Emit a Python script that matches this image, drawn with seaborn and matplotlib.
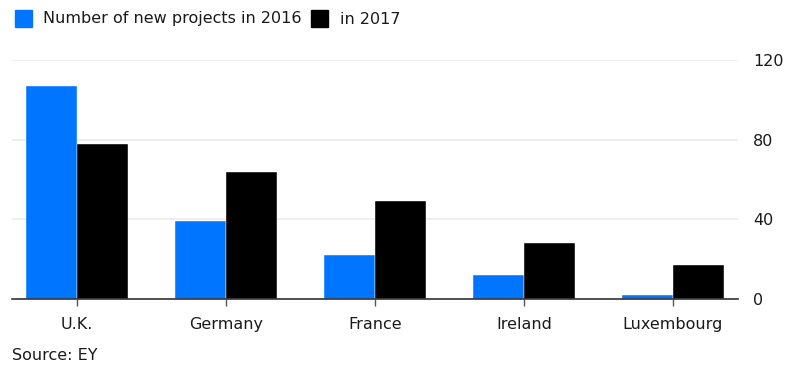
import numpy as np
import pandas as pd
import matplotlib
matplotlib.use("Agg")
import matplotlib.pyplot as plt
import seaborn as sns

# Data
countries = ['U.K.', 'Germany', 'France', 'Ireland', 'Luxembourg']
projects_2016 = [107, 39, 22, 12, 2]
projects_2017 = [78, 64, 49, 28, 17]
series_names = ['Number of new projects in 2016', 'in 2017']
y_ticks = [0, 40, 80, 120]

df = pd.DataFrame({
    'country': countries * 2,
    'projects': projects_2016 + projects_2017,
    'series': [series_names[0]] * len(countries) + [series_names[1]] * len(countries),
})

sns.set_style('white')
plt.rcParams['font.family'] = ['DejaVu Sans']
fs = 11.5

fig = plt.figure(figsize=(7.87, 3.85), dpi=100)
ax = fig.add_axes([0.0152, 0.2234, 0.9225, 0.6208])

palette = {series_names[0]: '#0075FF', series_names[1]: '#000000'}
sns.barplot(data=df, x='country', y='projects', hue='series', palette=palette,
            width=0.685, saturation=1, ax=ax, legend=False,
            edgecolor='white', linewidth=0.3)

ax.set_xlim(-0.436, len(countries) - 1 + 0.436)
ax.set_ylim(0, 120)
ax.set_yticks(y_ticks)
ax.yaxis.tick_right()
ax.yaxis.grid(True, color='#ebebeb', linewidth=1.2)
ax.set_axisbelow(True)
ax.tick_params(axis='y', length=0, labelsize=fs, pad=11, colors='#1a1a1a')
ax.tick_params(axis='x', length=5, width=1, color='#555555', labelsize=fs,
               pad=8, bottom=True, labelcolor='#1a1a1a')
ax.set_xlabel('')
ax.set_ylabel('')
for s in ['top', 'left', 'right']:
    ax.spines[s].set_visible(False)
ax.spines['bottom'].set_color('#333333')
ax.spines['bottom'].set_linewidth(1.2)

# Legend at top left
fig.patches.append(plt.Rectangle((15 / 787, 1 - 27 / 385), 17 / 787, 17 / 385,
                                 transform=fig.transFigure, color='#0075FF'))
fig.text(43 / 787, 1 - 19 / 385, series_names[0], fontsize=fs, va='center', color='#1a1a1a')
fig.patches.append(plt.Rectangle((311 / 787, 1 - 27 / 385), 17 / 787, 17 / 385,
                                 transform=fig.transFigure, color='#000000'))
fig.text(340 / 787, 1 - 19 / 385, series_names[1], fontsize=fs, va='center', color='#1a1a1a')

fig.text(12 / 787, 1 - 356 / 385, 'Source: EY', fontsize=fs, va='center', color='#1a1a1a')

fig.savefig('out.png', dpi=100)
